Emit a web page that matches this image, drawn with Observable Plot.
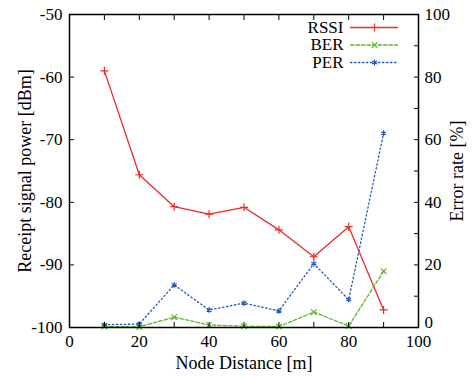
<!DOCTYPE html>
<html>
<head>
<meta charset="utf-8">
<script src="https://cdn.jsdelivr.net/npm/d3@7"></script>
<script src="https://cdn.jsdelivr.net/npm/@observablehq/plot@0.6"></script>
<style>
  html, body { margin: 0; padding: 0; background: #fff; }
</style>
</head>
<body>
<div id="chart"></div>
<script>
// Data
const distance = [10, 20, 30, 40, 50, 60, 70, 80, 90];
const rssi = [-59, -75.6, -80.7, -81.9, -80.8, -84.4, -88.7, -83.9, -97.2]; // dBm (left axis)
const ber  = [0.3, 0.2, 3.3, 0.8, 0.4, 0.3, 4.9, 0.5, 18];                 // % (right axis)
const per  = [0.9, 1.1, 13.6, 5.6, 7.8, 5.3, 20.4, 8.9, 62.1];            // % (right axis)

const seriesNames = ["RSSI", "BER", "PER"];
const seriesColors = ["#ee2a24", "#5cb82e", "#2456c0"];
const seriesSymbols = ["plus", "times", "asterisk"];
const seriesDash = [null, "3.5,2", "1.4,2.6"];

const xTicksLabels = [0, 20, 40, 60, 80, 100];
const xTicksAll = [0, 10, 20, 30, 40, 50, 60, 70, 80, 90, 100];
const yLeftTicks = [-100, -90, -80, -70, -60, -50];
const yRightLabels = [20, 40, 60, 80, 100];
const yRightZero = [0];
const yRightTicks = [0, 10, 20, 30, 40, 50, 60, 70, 80, 90, 100];

// map error rate (0..100 %) to the left dBm scale (-100..-50)
const pctToY = p => -100 + p / 2;
const yToPct = y => (y + 100) * 2;

const rows = [];
distance.forEach((d, i) => {
  rows.push({series: "RSSI", x: d, y: rssi[i]});
  rows.push({series: "BER", x: d, y: pctToY(ber[i])});
  rows.push({series: "PER", x: d, y: pctToY(per[i])});
});

const font = "'Liberation Serif', 'Times New Roman', Times, serif";
const fs = 17;   // tick labels and legend
const fsT = 18;  // axis titles
const lineShape = {draw(context, l) { context.moveTo(0, 0); context.lineTo(0, -l); }};

const marks = [];

// series lines and points
seriesNames.forEach((name, k) => {
  const data = rows.filter(r => r.series === name);
  marks.push(Plot.line(data, {x: "x", y: "y", stroke: seriesColors[k], strokeWidth: 1.3, strokeDasharray: seriesDash[k]}));
  marks.push(Plot.dot(data, {x: "x", y: "y", stroke: seriesColors[k], symbol: () => seriesSymbols[k], r: 2.7, strokeWidth: 1.2}));
});

// legend (inside top right)
seriesNames.forEach((name, k) => {
  const dy = [13, 30.5, 48][k];
  marks.push(Plot.text([name], {text: d => d, frameAnchor: "top-right", dx: -75, dy, textAnchor: "end", lineAnchor: "middle", fontSize: fs, fontFamily: font, fill: "#000"}));
  marks.push(Plot.vector([name], {frameAnchor: "top-right", dx: -68, dy, length: 47, rotate: 90, anchor: "start", shape: lineShape, stroke: seriesColors[k], strokeWidth: 1.3, strokeDasharray: seriesDash[k]}));
  marks.push(Plot.dot([name], {frameAnchor: "top-right", dx: -44, dy, symbol: () => seriesSymbols[k], stroke: seriesColors[k], r: 2.7, strokeWidth: 1.2}));
});

// axes: labels
marks.push(Plot.axisX(xTicksLabels, {anchor: "bottom", tickSize: 0, tickPadding: 7, label: null, fontSize: fs, fontFamily: font, tickFormat: d => String(d)}));
marks.push(Plot.axisY(yLeftTicks, {anchor: "left", tickSize: 0, tickPadding: 7, label: null, fontSize: fs, fontFamily: font, tickFormat: d => String(d)}));
marks.push(Plot.axisY(yRightLabels.map(pctToY), {anchor: "right", tickSize: 0, tickPadding: 6, label: null, fontSize: fs, fontFamily: font, tickFormat: d => String(Math.round(yToPct(d)))}));
marks.push(Plot.axisY(yRightZero.map(pctToY), {anchor: "right", tickSize: 0, tickPadding: 6, dy: -5, label: null, fontSize: fs, fontFamily: font, tickFormat: d => String(Math.round(yToPct(d)))}));
// axes: inward ticks
marks.push(Plot.axisX(xTicksAll, {anchor: "bottom", tickSize: -5, tickFormat: () => "", label: null}));
marks.push(Plot.axisX(xTicksAll, {anchor: "top", tickSize: -5, tickFormat: () => "", label: null}));
marks.push(Plot.axisY(yLeftTicks, {anchor: "left", tickSize: -5, tickFormat: () => "", label: null}));
marks.push(Plot.axisY(yRightTicks.map(pctToY), {anchor: "right", tickSize: -5, tickFormat: () => "", label: null}));

// axis titles
marks.push(Plot.text(["Receipt signal power [dBm]"], {text: d => d, frameAnchor: "left", dx: -44, rotate: -90, textAnchor: "middle", lineAnchor: "middle", fontSize: fsT, fontFamily: font, fill: "#000"}));
marks.push(Plot.text(["Error rate [%]"], {text: d => d, frameAnchor: "right", dx: 39, rotate: -90, textAnchor: "middle", lineAnchor: "middle", fontSize: fsT, fontFamily: font, fill: "#000"}));
marks.push(Plot.text(["Node Distance [m]"], {text: d => d, frameAnchor: "bottom", dy: 36, textAnchor: "middle", lineAnchor: "middle", fontSize: fsT, fontFamily: font, fill: "#000"}));

marks.push(Plot.frame({stroke: "#000", strokeWidth: 1.5}));

const chart = Plot.plot({
  width: 472,
  height: 376,
  marginLeft: 69,
  marginRight: 54,
  marginTop: 14,
  marginBottom: 49,
  x: {domain: [0, 100]},
  y: {domain: [-100, -50]},
  style: {fontFamily: font, fontSize: fs + "px", color: "#000", background: "#fff"},
  marks
});
document.getElementById("chart").appendChild(chart);
</script>
</body>
</html>
